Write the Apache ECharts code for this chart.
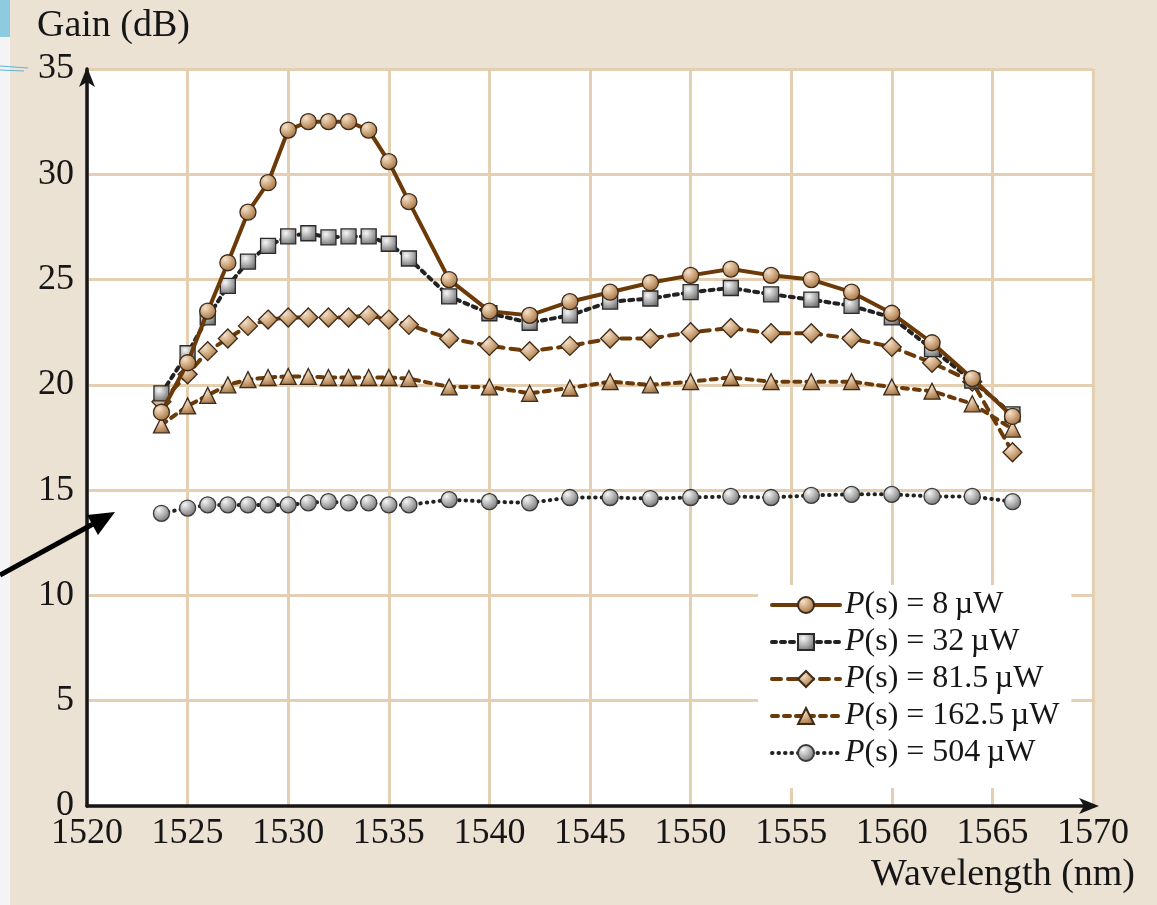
<!DOCTYPE html>
<html>
<head>
<meta charset="utf-8">
<script src="https://cdn.jsdelivr.net/npm/echarts@6/dist/echarts.min.js"></script>
<style>
  html, body { margin: 0; padding: 0; background: #ece2d4; }
  #chart { width: 1157px; height: 905px; }
</style>
</head>
<body>
<div id="chart"></div>
<script>
// Wavelength sample points (nm)
const wavelengths = [1523.7, 1525, 1526, 1527, 1528, 1529, 1530, 1531, 1532, 1533, 1534, 1535, 1536,
  1538, 1540, 1542, 1544, 1546, 1548, 1550, 1552, 1554, 1556, 1558, 1560, 1562, 1564, 1566];

// Gain (dB) for each signal power
const gain8 = [18.7, 21.05, 23.5, 25.8, 28.2, 29.6, 32.1, 32.5, 32.5, 32.5, 32.1, 30.6, 28.7,
  25.0, 23.5, 23.3, 23.95, 24.4, 24.85, 25.2, 25.5, 25.2, 25.0, 24.4, 23.4, 22.0, 20.3, 18.5];
const gain32 = [19.6, 21.5, 23.2, 24.7, 25.85, 26.6, 27.05, 27.2, 27.0, 27.05, 27.05, 26.7, 26.0,
  24.2, 23.4, 22.95, 23.3, 23.95, 24.1, 24.4, 24.6, 24.3, 24.05, 23.75, 23.2, 21.7, 20.2, 18.6];
const gain81 = [19.2, 20.5, 21.6, 22.2, 22.8, 23.1, 23.2, 23.2, 23.2, 23.2, 23.3, 23.1, 22.85,
  22.2, 21.85, 21.6, 21.85, 22.2, 22.2, 22.5, 22.7, 22.45, 22.45, 22.2, 21.8, 21.05, 20.15, 16.8];
const gain162 = [18.1, 19.0, 19.5, 20.0, 20.25, 20.35, 20.4, 20.4, 20.35, 20.35, 20.35, 20.35, 20.3,
  19.9, 19.9, 19.6, 19.85, 20.15, 20.0, 20.15, 20.35, 20.15, 20.15, 20.15, 19.9, 19.7, 19.1, 17.9];
const gain504 = [13.9, 14.15, 14.3, 14.3, 14.3, 14.3, 14.3, 14.4, 14.45, 14.4, 14.4, 14.3, 14.3,
  14.55, 14.45, 14.4, 14.65, 14.65, 14.6, 14.65, 14.7, 14.65, 14.75, 14.8, 14.8, 14.7, 14.7, 14.45];

const seriesNames = ['P(s) = 8\u2009µW', 'P(s) = 32\u2009µW', 'P(s) = 81.5\u2009µW',
  'P(s) = 162.5\u2009µW', 'P(s) = 504\u2009µW'];

const FONT = "'Liberation Serif', 'Times New Roman', serif";
const BROWN = '#6b3a08';
const DARK = '#222222';
const GRID = '#e4cfb3';
const INK = '#161616';

function pairs(ys) { return wavelengths.map((x, i) => [x, ys[i]]); }

const tanFill = new echarts.graphic.RadialGradient(0.35, 0.3, 0.75, [
  { offset: 0, color: '#f4e2cc' }, { offset: 0.5, color: '#cfa77c' }, { offset: 1, color: '#9a6d40' }]);
const grayFill = new echarts.graphic.RadialGradient(0.35, 0.3, 0.75, [
  { offset: 0, color: '#f6f6f6' }, { offset: 0.5, color: '#b4b4b4' }, { offset: 1, color: '#6e6e6e' }]);

function lineSeries(name, ys, symbol, size, fill, border, color, type, z) {
  return {
    name, type: 'line', data: pairs(ys), z,
    symbol, symbolSize: size, showSymbol: true, showAllSymbol: true,
    lineStyle: { color, width: 4, type, cap: 'round' },
    itemStyle: { color: fill, borderColor: border, borderWidth: 1.3 },
    emphasis: { disabled: true }
  };
}

const chart = echarts.init(document.getElementById('chart'));
chart.setOption({
  backgroundColor: '#ece2d4',
  animation: false,
  grid: { left: 87, right: 64, top: 69, bottom: 99, show: true, backgroundColor: '#ffffff', borderWidth: 0 },
  xAxis: {
    type: 'value', min: 1520, max: 1570, interval: 5,
    axisLine: { lineStyle: { color: INK, width: 3.5 }, symbol: ['none', 'arrow'], symbolSize: [12, 20], symbolOffset: [0, 6] },
    axisTick: { show: false },
    axisLabel: { color: INK, fontFamily: FONT, fontSize: 36, margin: 10, formatter: (v) => String(v) },
    splitLine: { show: true, lineStyle: { color: GRID, width: 3 } }
  },
  yAxis: {
    type: 'value', min: 0, max: 35, interval: 5,
    axisLine: { show: true, onZero: false, lineStyle: { color: INK, width: 3.5 }, symbol: ['none', 'arrow'], symbolSize: [12, 20], symbolOffset: [0, 2] },
    axisTick: { show: false },
    axisLabel: { color: INK, fontFamily: FONT, fontSize: 36, margin: 13 },
    splitLine: { show: true, lineStyle: { color: GRID, width: 3 } }
  },
  legend: {
    left: 758, top: 585, orient: 'vertical',
    backgroundColor: '#ffffff', padding: [4, 12, 19, 12],
    itemWidth: 68, itemHeight: 20, itemGap: 5,
    data: seriesNames,
    lineStyle: { width: 4 },
    formatter: (n) => '{i|P}' + n.slice(1),
    textStyle: {
      color: INK, fontFamily: FONT, fontSize: 32, lineHeight: 32,
      rich: { i: { fontStyle: 'italic', fontFamily: FONT, fontSize: 32, lineHeight: 32, color: INK } }
    }
  },
  series: [
    lineSeries(seriesNames[0], gain8, 'circle', 16, tanFill, '#3d2a18', BROWN, 'solid', 7),
    lineSeries(seriesNames[1], gain32, 'rect', 15, grayFill, '#2a2a2a', DARK, [4, 5], 6),
    lineSeries(seriesNames[2], gain81, 'diamond', 19, tanFill, '#3d2a18', BROWN, [9, 7], 5),
    lineSeries(seriesNames[3], gain162, 'triangle', 16, tanFill, '#3d2a18', BROWN, [6, 6], 4),
    lineSeries(seriesNames[4], gain504, 'circle', 16, grayFill, '#3a3a3a', DARK, [0.5, 6], 3)
  ],
  graphic: [
    // slide edge strip on the left
    { type: 'rect', left: 0, top: 0, z: 50, shape: { width: 10, height: 905 }, style: { fill: '#f4f4f6' } },
    { type: 'rect', left: 0, top: 0, z: 51, shape: { width: 10, height: 37 }, style: { fill: '#8ecbe0' } },
    { type: 'line', z: 51, shape: { x1: 0, y1: 66, x2: 28, y2: 68 }, style: { stroke: '#5db4d6', lineWidth: 1.2 } },
    { type: 'line', z: 51, shape: { x1: 0, y1: 70, x2: 24, y2: 71 }, style: { stroke: '#5db4d6', lineWidth: 1.2 } },
    // axis titles
    { type: 'text', left: 37, top: 7, z: 60, style: { text: 'Gain (dB)', fontFamily: FONT, fontSize: 38, fill: INK } },
    { type: 'text', right: 22, top: 856, z: 60, style: { text: 'Wavelength (nm)', fontFamily: FONT, fontSize: 38, fill: INK } },
    // pointer arrow
    { type: 'line', z: 60, shape: { x1: 0, y1: 575, x2: 93, y2: 524 }, style: { stroke: '#000', lineWidth: 5 } },
    { type: 'polygon', z: 60, shape: { points: [[115, 512], [87, 515], [98, 535]] }, style: { fill: '#000' } }
  ]
});
</script>
</body>
</html>
